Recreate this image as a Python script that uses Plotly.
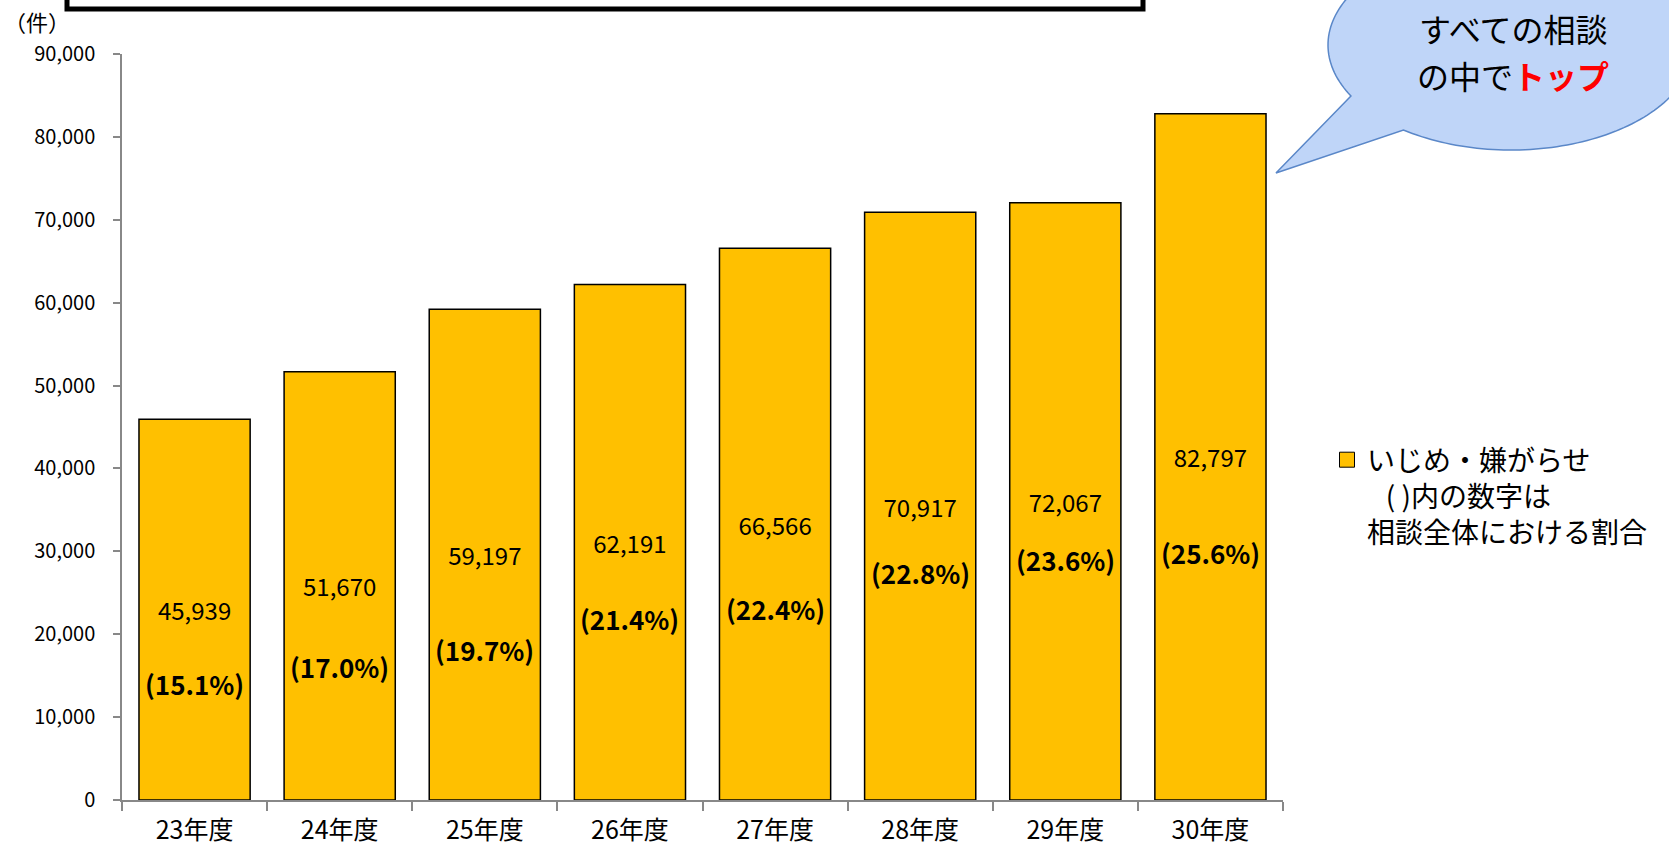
import numpy as np
import plotly.graph_objects as go

# ---- data ----
categories = ["23年度", "24年度", "25年度", "26年度", "27年度", "28年度", "29年度", "30年度"]
counts = [45939, 51670, 59197, 62191, 66566, 70917, 72067, 82797]
share_pct = [15.1, 17.0, 19.7, 21.4, 22.4, 22.8, 23.6, 25.6]
series_name = "いじめ・嫌がらせ"
legend_note1 = "( )内の数字は"
legend_note2 = "相談全体における割合"
y_ticks = [0, 10000, 20000, 30000, 40000, 50000, 60000, 70000, 80000, 90000]
unit_label = "（件）"
bubble_line1 = "すべての相談"
bubble_line2a = "の中で"
bubble_line2b = "トップ"

# label heights (data units) for the percentage text boxes
pct_label_y = [14100, 16150, 18100, 21950, 23150, 27500, 29050, 29900]

FONT = "Noto Sans CJK JP"
BAR_COLOR = "#FFC000"
W_PX, H_PX = 1669, 847
L, R, T, B = 122, 1283, 54, 800


def px_x(px):
    return (px - L) / (R - L)


def px_y(py):
    return (B - py) / (B - T)


fig = go.Figure()
fig.add_trace(go.Bar(
    x=categories,
    y=counts,
    name=series_name,
    showlegend=False,
    marker=dict(color=BAR_COLOR, line=dict(color="#000000", width=1.5)),
    texttemplate="%{y:,.0f}",
    textposition="inside",
    insidetextanchor="middle",
    textangle=0,
    textfont=dict(family=FONT, size=24, color="#000000"),
    constraintext="none",
))
# legend entry (square key) for the bar series
fig.add_trace(go.Scatter(
    x=[categories[0]], y=[None], mode="markers",
    name=series_name + "<br>&nbsp;&nbsp;&nbsp;" + legend_note1 + "<br>" + legend_note2,
    marker=dict(symbol="square", size=15, color=BAR_COLOR,
                line=dict(color="#000000", width=1)),
    hoverinfo="skip", showlegend=True,
))

annotations = []
for c, p, yy in zip(categories, share_pct, pct_label_y):
    annotations.append(dict(
        x=c, y=yy, xref="x", yref="y",
        text="<b>(%.1f%%)</b>" % p,
        showarrow=False,
        font=dict(family=FONT, size=26, color="#000000"),
        xanchor="center", yanchor="middle",
    ))

annotations.append(dict(
    x=px_x(2), y=px_y(21), xref="paper", yref="paper",
    text=unit_label, showarrow=False, xanchor="left", yanchor="middle",
    font=dict(family=FONT, size=22, color="#000000"),
))

annotations.append(dict(
    x=px_x(1513), y=px_y(28), xref="paper", yref="paper",
    text=bubble_line1, showarrow=False, xanchor="center", yanchor="middle",
    font=dict(family=FONT, size=32, color="#000000"),
))
annotations.append(dict(
    x=px_x(1513), y=px_y(75), xref="paper", yref="paper",
    text=bubble_line2a + "<span style='color:#FF0000'><b>" + bubble_line2b + "</b></span>",
    showarrow=False, xanchor="center", yanchor="middle",
    font=dict(family=FONT, size=32, color="#000000"),
))

# speech bubble outline (ellipse + tail)
cx, cy, rx, ry = 1511, 45, 183, 105
t = np.radians(np.linspace(151, 486, 200))
ex = cx + rx * np.cos(t)
ey = cy + ry * np.sin(t)
pts = list(zip(ex, ey)) + [(1276, 173)]
path = "M " + " L ".join("%.5f,%.5f" % (px_x(a), px_y(b)) for a, b in pts) + " Z"

shapes = [
    dict(type="rect", xref="paper", yref="paper",
         x0=px_x(67), x1=px_x(1143), y0=px_y(9), y1=px_y(-40),
         line=dict(color="#000000", width=5), fillcolor="#FFFFFF"),
    dict(type="path", xref="paper", yref="paper", path=path,
         fillcolor="#BFD5F8", line=dict(color="#5A87C8", width=1.5)),
]

fig.update_layout(
    width=W_PX, height=H_PX,
    margin=dict(l=L, r=W_PX - R, t=T, b=H_PX - B, pad=0, autoexpand=False),
    paper_bgcolor="#FFFFFF", plot_bgcolor="#FFFFFF",
    font=dict(family=FONT, color="#000000"),
    bargap=0.234,
    showlegend=True,
    legend=dict(
        x=px_x(1327), y=px_y(435), xanchor="left", yanchor="top",
        font=dict(family=FONT, size=28, color="#000000"),
        bgcolor="rgba(0,0,0,0)", valign="top", itemwidth=30,
        itemsizing="trace",
    ),
    annotations=annotations,
    shapes=shapes,
    xaxis=dict(
        type="category", showline=True, linecolor="#888888", linewidth=1.5,
        ticks="outside", tickson="boundaries", ticklen=9, tickcolor="#888888",
        tickwidth=1.5, showgrid=False, ticklabelstandoff=7, automargin=False,
        tickfont=dict(family=FONT, size=25, color="#000000"),
    ),
    yaxis=dict(
        range=[0, 90000], tickvals=y_ticks, tickformat=",",
        showline=True, linecolor="#888888", linewidth=1.5,
        ticks="outside", ticklen=7, tickcolor="#888888", tickwidth=1.5,
        showgrid=False, zeroline=False, ticklabelstandoff=14, automargin=False,
        tickfont=dict(family=FONT, size=20, color="#000000"),
    ),
)

fig.write_html("out.html")
